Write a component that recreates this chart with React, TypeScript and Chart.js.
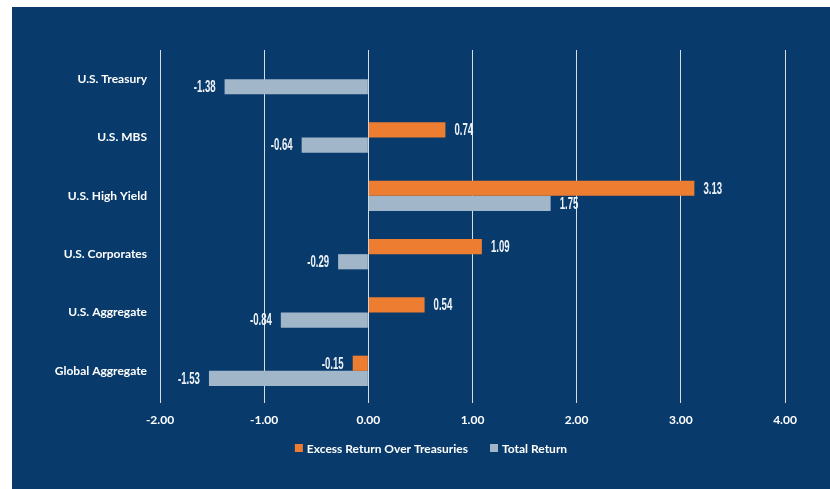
import React, { useEffect, useRef } from "react";
import { Chart, registerables } from "chart.js";

Chart.register(...registerables);

const categories = [
  "U.S. Treasury",
  "U.S. MBS",
  "U.S. High Yield",
  "U.S. Corporates",
  "U.S. Aggregate",
  "Global Aggregate",
];
const excessReturn: (number | null)[] = [null, 0.74, 3.13, 1.09, 0.54, -0.15];
const totalReturn: (number | null)[] = [-1.38, -0.64, 1.75, -0.29, -0.84, -1.53];
const xTicks = [-2, -1, 0, 1, 2, 3, 4];

const BG = "#083b6b";
const ORANGE = "#ed7d31";
const GREY = "#a2b6ca";
const FONT = "Lato, 'Open Sans', sans-serif";

const valueLabels = {
  id: "valueLabels",
  afterDatasetsDraw(chart: any) {
    const ctx = chart.ctx;
    const sx = 0.6;
    ctx.save();
    ctx.font = 'bold 16px "Liberation Sans", Arial, sans-serif';
    ctx.fillStyle = "#eef2f7";
    ctx.textBaseline = "middle";
    chart.data.datasets.forEach((ds: any, di: number) => {
      const meta = chart.getDatasetMeta(di);
      meta.data.forEach((bar: any, i: number) => {
        const v = ds.data[i];
        if (v === null || v === undefined) return;
        const txt = v.toFixed(2);
        ctx.save();
        if (v < 0) {
          ctx.translate(bar.x - 9, bar.y + 1);
          ctx.scale(sx, 1);
          ctx.textAlign = "right";
        } else {
          ctx.translate(bar.x + 9, bar.y + 1);
          ctx.scale(sx, 1);
          ctx.textAlign = "left";
        }
        ctx.fillText(txt, 0, 0);
        ctx.restore();
      });
    });
    ctx.restore();
  },
};

const customLegend = {
  id: "customLegend",
  afterDraw(chart: any) {
    const ctx = chart.ctx;
    ctx.save();
    ctx.font = `bold 12px ${FONT}`;
    ctx.textBaseline = "middle";
    const box = 8;
    const gap = 4;
    const itemGap = 22;
    const items = chart.data.datasets.map((ds: any) => ({
      text: ds.label,
      color: ds.backgroundColor,
      w: box + gap + ctx.measureText(ds.label).width,
    }));
    const total = items.reduce((s: number, it: any) => s + it.w, 0) + itemGap * (items.length - 1);
    let x = chart.width / 2 + 10 - total / 2;
    const y = chart.chartArea.bottom + 48;
    items.forEach((it: any) => {
      ctx.fillStyle = it.color;
      ctx.fillRect(x, y - box / 2, box, box);
      ctx.fillStyle = "#ffffff";
      ctx.textAlign = "left";
      ctx.fillText(it.text, x + box + gap, y + 1);
      x += it.w + itemGap;
    });
    ctx.restore();
  },
};

export default function App() {
  const ref = useRef<HTMLCanvasElement>(null);
  useEffect(() => {
    if (!ref.current) return;
    const chart = new Chart(ref.current, {
      type: "bar",
      data: {
        labels: categories,
        datasets: [
          {
            label: "Excess Return Over Treasuries",
            data: excessReturn,
            backgroundColor: ORANGE,
            categoryPercentage: 0.52,
            barPercentage: 1,
          },
          {
            label: "Total Return",
            data: totalReturn,
            backgroundColor: GREY,
            categoryPercentage: 0.52,
            barPercentage: 1,
          },
        ],
      },
      options: {
        indexAxis: "y",
        animation: false,
        responsive: false,
        maintainAspectRatio: false,
        layout: { padding: { left: 0, right: 45, top: 43, bottom: 0 } },
        scales: {
          x: {
            min: -2,
            max: 4,
            afterBuildTicks: (scale: any) => {
              scale.ticks = xTicks.map((v) => ({ value: v }));
            },
            ticks: {
              color: "#ffffff",
              font: { family: FONT, size: 12, weight: "bold" },
              padding: 10,
              callback: (v: any) => Number(v).toFixed(2),
            },
            grid: {
              color: "#d8dde3",
              lineWidth: 1,
              tickLength: 3,
              drawTicks: true,
            },
            border: { display: false },
            afterFit: (scale: any) => {
              scale.height = 89;
            },
          },
          y: {
            grid: { display: false, drawTicks: false },
            border: { display: false },
            ticks: {
              color: "#ffffff",
              font: { family: FONT, size: 12, weight: "bold" },
              padding: 13,
            },
            afterFit: (scale: any) => {
              scale.width = 148;
            },
          },
        },
        plugins: {
          legend: { display: false },
          tooltip: { enabled: false },
        },
      },
      plugins: [valueLabels, customLegend],
    });
    return () => chart.destroy();
  }, []);
  return (
    <div
      style={{
        position: "fixed",
        left: 12,
        top: 7,
        width: 818,
        height: 482,
        background: BG,
      }}
    >
      <canvas ref={ref} width={818} height={482} style={{ display: "block" }} />
    </div>
  );
}
